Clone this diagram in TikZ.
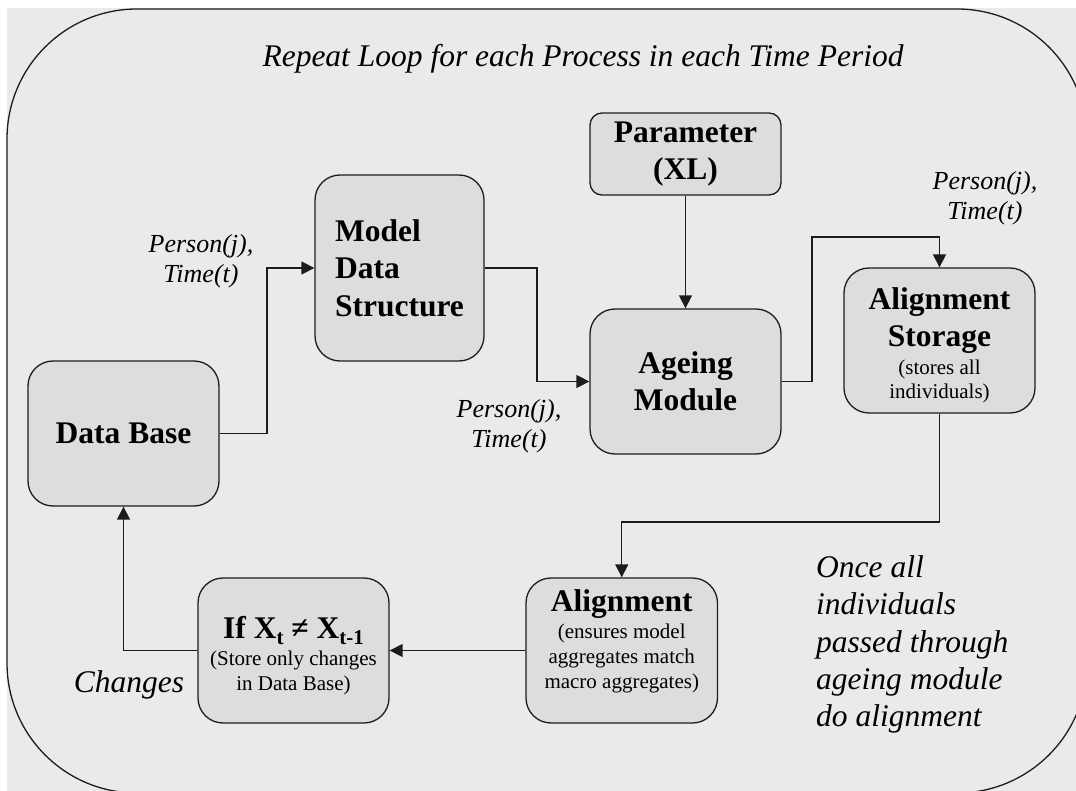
\documentclass[tikz,border=0pt]{standalone}
\usepackage{fontspec}
\setmainfont{Liberation Serif}
\usetikzlibrary{arrows.meta}
\definecolor{bgc}{HTML}{EAEAEA}
\definecolor{boxc}{HTML}{DDDDDD}
\definecolor{linec}{HTML}{1C1C1C}
\newcommand\bfnt{\fontsize{31.5}{37.5}\selectfont\bfseries}
\newcommand\ifnt{\fontsize{31.5}{37.3}\selectfont\itshape}
\newcommand\lfnt{\fontsize{26}{30}\selectfont\itshape}
\newcommand\sfnt{\fontsize{21}{25}\selectfont\mdseries}
\newcommand\sbx[1]{\raisebox{-6pt}{\fontsize{21}{21}\selectfont\bfseries #1}}
\begin{document}
\begin{tikzpicture}[x=1pt,y=-1pt,
  box/.style={draw=linec, fill=boxc, line width=1.3pt, rounded corners=25pt, inner sep=0pt, align=center, font=\bfnt},
  arr/.style={draw=linec, line width=1.4pt, -{Triangle[length=13pt,width=13pt]}},
  lab/.style={inner sep=0pt, align=center, font=\lfnt}]
\useasboundingbox (0,0) rectangle (1076,791);
\fill[white] (0,0) rectangle (1076,791);
\begin{scope}
\clip (0,0) rectangle (1076,791);
\fill[bgc] (7,8) rectangle (1076,791);
\draw[linec, line width=1.3pt, fill=bgc, rounded corners=130pt] (7,9) rectangle (1087,793);
\end{scope}

\node[box, minimum width=191pt, minimum height=145pt] (db) at (123.5,433.5) {Data Base};
\node[box, align=left, minimum width=169pt, minimum height=186pt] (model) at (399.5,268) {Model\\Data\\Structure};
\node[box, rounded corners=12pt, minimum width=191pt, minimum height=82pt] (par) at (685.5,154) {Parameter\\(XL)};
\node[box, minimum width=191pt, minimum height=145pt] (age) at (685.5,381.5) {Ageing\\Module};
\node[box, minimum width=191pt, minimum height=145pt] (sto) at (939.5,340.5) {\rule{0pt}{31pt}Alignment\\Storage\\[-10pt]\sfnt (stores all\\[-13pt]\sfnt individuals)};
\node[box, minimum width=191.5pt, minimum height=145pt] (al) at (621.75,650.5) {Alignment\\[-10.5pt]\sfnt (ensures model\\[-12.5pt]\sfnt aggregates match\\[-12.5pt]\sfnt macro aggregates)\rule[-22pt]{0pt}{0pt}};
\node[box, minimum width=191pt, minimum height=145pt] (ifn) at (293.5,650.5) {\rule{0pt}{32pt}If X\sbx{t} ≠ X\sbx{t-1}\\[-10pt]\sfnt (Store only changes\\[-12.5pt]\sfnt in Data Base)};

\coordinate (j1) at (267,350);
\draw[arr] (db.east) -- (db.east -| j1) |- (model.west);
\coordinate (j2) at (537,320);
\draw[arr] (model.east) -| (j2) |- (age.west);
\draw[arr] (par.south) -- (age.north);
\coordinate (j3) at (812,237);
\draw[arr] (age.east) -| (j3) -| (sto.north);
\coordinate (j4) at (800,522);
\draw[arr] (sto.south) |- (j4) -| (al.north);
\draw[arr] (al.west) -- (ifn.east);
\draw[arr] (ifn.west) -| (db.south);

\node[inner sep=0pt, font=\ifnt] (title) at (583,59) {Repeat Loop for each Process in each Time Period};
\node[lab] (l1) at (201,261) {Person(j),\\Time(t)};
\node[lab] (l2) at (509,426) {Person(j),\\Time(t)};
\node[lab] (l3) at (985,198) {Person(j),\\Time(t)};
\node[inner sep=0pt, font=\ifnt, anchor=base] (chg) at (129,692) {Changes};
\node[inner sep=0pt, font=\ifnt, align=left, anchor=north west] (once) at (816,555.5) {Once all\\individuals\\passed through\\ageing module\\do alignment};
\end{tikzpicture}
\end{document}
